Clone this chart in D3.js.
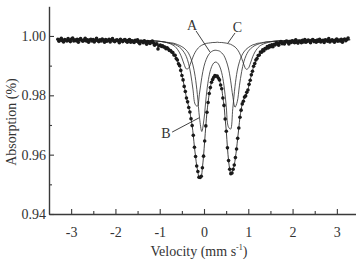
<!DOCTYPE html>
<html>
<head>
<meta charset="utf-8">
<script src="https://cdn.jsdelivr.net/npm/d3@7"></script>
<style>
  body { margin: 0; background: #fff; }
  svg { display: block; }
  text { font-family: "Liberation Serif", "Times New Roman", serif; }
</style>
</head>
<body>
<svg id="chart" width="356" height="259"></svg>
<script>
// measured spectrum: 256 channels, velocity from vStart in steps of vStep
let vStart = -3.30;
let vStep = 0.0257;
let absorption = [
  0.9989, 0.9982, 0.9987, 0.9992, 0.9984, 0.9980, 0.9988, 0.9986, 0.9983, 0.9991,
  0.9985, 0.9981, 0.9990, 0.9993, 0.9983, 0.9987, 0.9984, 0.9989, 0.9979, 0.9988,
  0.9991, 0.9985, 0.9982, 0.9986, 0.9992, 0.9983, 0.9987, 0.9979, 0.9986, 0.9989,
  0.9983, 0.9988, 0.9980, 0.9985, 0.9992, 0.9984, 0.9981, 0.9987, 0.9983, 0.9990,
  0.9986, 0.9979, 0.9988, 0.9982, 0.9985, 0.9989, 0.9980, 0.9987, 0.9991, 0.9983,
  0.9981, 0.9985, 0.9987, 0.9983, 0.9977, 0.9989, 0.9984, 0.9981, 0.9986, 0.9988,
  0.9982, 0.9979, 0.9985, 0.9988, 0.9979, 0.9984, 0.9981, 0.9978, 0.9985, 0.9982,
  0.9987, 0.9978, 0.9974, 0.9982, 0.9981, 0.9977, 0.9984, 0.9979, 0.9972, 0.9981,
  0.9978, 0.9975, 0.9980, 0.9983, 0.9976, 0.9969, 0.9973, 0.9974, 0.9956, 0.9967,
  0.9969, 0.9965, 0.9967, 0.9963, 0.9963, 0.9957, 0.9960, 0.9956, 0.9951, 0.9951,
  0.9946, 0.9944, 0.9936, 0.9935, 0.9924, 0.9919, 0.9906, 0.9900, 0.9884, 0.9867,
  0.9852, 0.9830, 0.9813, 0.9791, 0.9778, 0.9759, 0.9744, 0.9721, 0.9698, 0.9665,
  0.9625, 0.9594, 0.9562, 0.9543, 0.9524, 0.9523, 0.9527, 0.9556, 0.9595, 0.9646,
  0.9697, 0.9743, 0.9776, 0.9806, 0.9826, 0.9844, 0.9853, 0.9861, 0.9867, 0.9864,
  0.9865, 0.9858, 0.9852, 0.9835, 0.9822, 0.9791, 0.9766, 0.9720, 0.9679, 0.9623,
  0.9580, 0.9551, 0.9536, 0.9538, 0.9551, 0.9565, 0.9590, 0.9619, 0.9655, 0.9690,
  0.9726, 0.9750, 0.9771, 0.9780, 0.9794, 0.9798, 0.9810, 0.9818, 0.9837, 0.9851,
  0.9869, 0.9881, 0.9898, 0.9907, 0.9919, 0.9924, 0.9934, 0.9936, 0.9946, 0.9945,
  0.9953, 0.9950, 0.9958, 0.9957, 0.9964, 0.9960, 0.9968, 0.9964, 0.9970, 0.9964,
  0.9972, 0.9970, 0.9977, 0.9975, 0.9969, 0.9977, 0.9981, 0.9974, 0.9977, 0.9973,
  0.9981, 0.9983, 0.9978, 0.9973, 0.9981, 0.9978, 0.9984, 0.9980, 0.9977, 0.9987,
  0.9979, 0.9976, 0.9982, 0.9981, 0.9977, 0.9985, 0.9980, 0.9988, 0.9979, 0.9982,
  0.9986, 0.9982, 0.9977, 0.9985, 0.9988, 0.9981, 0.9984, 0.9979, 0.9986, 0.9982,
  0.9989, 0.9980, 0.9983, 0.9985, 0.9978, 0.9987, 0.9985, 0.9982, 0.9991, 0.9980,
  0.9984, 0.9987, 0.9983, 0.9979, 0.9986, 0.9990, 0.9982, 0.9986, 0.9983, 0.9989,
  0.9979, 0.9987, 0.9990, 0.9984, 0.9988, 0.9993
];

// fitted sub-spectra (doublets A, B, C) read at these velocities
let fitV = [
  -3.30, -2.60, -2.00, -1.60, -1.30, -1.10, -0.95, -0.85, -0.75,
  -0.70, -0.65, -0.60, -0.55, -0.50, -0.45, -0.40, -0.35, -0.30, -0.25,
  -0.20, -0.15, -0.10, -0.05, 0.00, 0.05, 0.10, 0.15, 0.20, 0.25,
  0.30, 0.35, 0.40, 0.45, 0.50, 0.55, 0.60, 0.65, 0.70, 0.75,
  0.80, 0.85, 0.90, 0.95, 1.00, 1.05, 1.10, 1.15, 1.20, 1.25, 1.30,
  1.40, 1.50, 1.65, 1.80, 2.00, 2.40, 2.90, 3.30
];
let compA = [
  0.9987, 0.9987, 0.9986, 0.9986, 0.9984, 0.9983, 0.9981, 0.9978, 0.9975,
  0.9973, 0.9971, 0.9967, 0.9962, 0.9955, 0.9945, 0.9931, 0.9908, 0.9872, 0.9821,
  0.9770, 0.9763, 0.9808, 0.9860, 0.9898, 0.9921, 0.9936, 0.9945, 0.9950, 0.9952,
  0.9951, 0.9949, 0.9943, 0.9934, 0.9917, 0.9892, 0.9851, 0.9797, 0.9760, 0.9778,
  0.9832, 0.9880, 0.9913, 0.9934, 0.9948, 0.9957, 0.9963, 0.9968, 0.9971, 0.9974, 0.9976,
  0.9979, 0.9981, 0.9983, 0.9984, 0.9985, 0.9986, 0.9987, 0.9987
];
let compB = [
  0.9987, 0.9987, 0.9986, 0.9985, 0.9984, 0.9983, 0.9981, 0.9979, 0.9977,
  0.9976, 0.9974, 0.9971, 0.9968, 0.9964, 0.9959, 0.9952, 0.9942, 0.9926, 0.9902,
  0.9864, 0.9803, 0.9723, 0.9678, 0.9720, 0.9796, 0.9853, 0.9887, 0.9905, 0.9912,
  0.9910, 0.9899, 0.9876, 0.9834, 0.9767, 0.9694, 0.9686, 0.9756, 0.9830, 0.9882,
  0.9913, 0.9933, 0.9946, 0.9955, 0.9961, 0.9966, 0.9970, 0.9972, 0.9975, 0.9976, 0.9977,
  0.9980, 0.9981, 0.9983, 0.9984, 0.9985, 0.9986, 0.9987, 0.9987
];
let compC = [
  0.9988, 0.9987, 0.9987, 0.9986, 0.9985, 0.9983, 0.9981, 0.9978, 0.9973,
  0.9969, 0.9964, 0.9955, 0.9943, 0.9926, 0.9905, 0.9889, 0.9891, 0.9909, 0.9929,
  0.9945, 0.9956, 0.9964, 0.9969, 0.9972, 0.9975, 0.9976, 0.9977, 0.9978, 0.9978,
  0.9979, 0.9978, 0.9978, 0.9977, 0.9976, 0.9974, 0.9972, 0.9968, 0.9963, 0.9955,
  0.9943, 0.9925, 0.9904, 0.9888, 0.9891, 0.9909, 0.9930, 0.9946, 0.9957, 0.9965, 0.9970,
  0.9976, 0.9980, 0.9983, 0.9984, 0.9986, 0.9987, 0.9987, 0.9988
];

let xTicks = [-3, -2, -1, 0, 1, 2, 3];
let xTickLabels = ["-3", "-2", "-1", "0", "1", "2", "3"];
let xMinorTicks = [-2.5, -1.5, -0.5, 0.5, 1.5, 2.5];
let yTicks = [0.94, 0.96, 0.98, 1.00];
let yTickLabels = ["0.94", "0.96", "0.98", "1.00"];
let yMinorTicks = [0.95, 0.97, 0.99];

function drawChart() {
  let svg = d3.select("#chart");
  let x = d3.scaleLinear().domain([-3.5, 3.5]).range([49, 359]);
  let y = d3.scaleLinear().domain([0.94, 1.01]).range([214, 6.3]);
  let axisColor = "#3a3a3a";

  let points = absorption.map(function (a, i) {
    return [vStart + i * vStep, a];
  });

  // sub-spectra
  let compLine = d3.line()
    .x(function (d) { return x(d[0]); })
    .y(function (d) { return y(d[1]); })
    .curve(d3.curveCatmullRom);
  let comps = [compA, compB, compC].map(function (c) {
    return fitV.map(function (v, i) { return [v, c[i]]; });
  });
  svg.append("g").selectAll("path")
    .data(comps)
    .join("path")
    .attr("d", compLine)
    .attr("fill", "none")
    .attr("stroke", "#2b2b2b")
    .attr("stroke-width", 0.8);

  // line through the measured points
  svg.append("path")
    .datum(points)
    .attr("d", compLine)
    .attr("fill", "none")
    .attr("stroke", "#111")
    .attr("stroke-width", 0.8);

  svg.append("g").selectAll("circle")
    .data(points)
    .join("circle")
    .attr("cx", function (d) { return x(d[0]); })
    .attr("cy", function (d) { return y(d[1]); })
    .attr("r", 1.8)
    .attr("fill", "#1a1a1a");

  // axes
  let xAxis = svg.append("g").attr("transform", "translate(0,214)")
    .call(d3.axisBottom(x).tickValues(xTicks)
      .tickFormat(function (d, i) { return xTickLabels[i]; })
      .tickSize(-5).tickSizeOuter(0).tickPadding(13));
  svg.append("g").attr("transform", "translate(0,214)")
    .call(d3.axisBottom(x).tickValues(xMinorTicks).tickFormat("")
      .tickSize(-3).tickSizeOuter(0))
    .select(".domain").remove();

  let yAxis = svg.append("g").attr("transform", "translate(49,0)")
    .call(d3.axisLeft(y).tickValues(yTicks)
      .tickFormat(function (d, i) { return yTickLabels[i]; })
      .tickSize(-5).tickSizeOuter(0).tickPadding(3));
  svg.append("g").attr("transform", "translate(49,0)")
    .call(d3.axisLeft(y).tickValues(yMinorTicks).tickFormat("")
      .tickSize(-3).tickSizeOuter(0))
    .select(".domain").remove();

  svg.selectAll(".domain").attr("stroke", axisColor).attr("stroke-width", 1.4);
  svg.selectAll(".tick line").attr("stroke", axisColor).attr("stroke-width", 1.1);
  [xAxis, yAxis].forEach(function (g) {
    g.selectAll("text")
      .attr("font-family", "Liberation Serif, serif")
      .attr("font-size", 14)
      .attr("fill", "#333");
  });

  // axis titles
  let xTitle = svg.append("text")
    .attr("x", 199).attr("y", 255.5)
    .attr("text-anchor", "middle")
    .attr("font-size", 14)
    .attr("fill", "#333");
  xTitle.append("tspan").text("Velocity (mm s");
  xTitle.append("tspan").attr("font-size", 8).attr("dy", -6).text("-1");
  xTitle.append("tspan").attr("dy", 6).text(")");

  svg.append("text")
    .attr("transform", "translate(16,122) rotate(-90)")
    .attr("text-anchor", "middle")
    .attr("font-size", 14)
    .attr("fill", "#333")
    .text("Absorption (%)");

  // component labels with pointer lines (data coordinates)
  let notes = [
    { name: "A", tx: -0.27, ty: 1.0020, from: [-0.18, 1.0017], to: [0.14, 0.9945] },
    { name: "C", tx: 0.756, ty: 1.0013, from: [0.70, 1.0010], to: [0.54, 0.9976] },
    { name: "B", tx: -0.858, ty: 0.9656, from: [-0.72, 0.9676], to: [-0.113, 0.9724] }
  ];
  svg.append("g").selectAll("line")
    .data(notes)
    .join("line")
    .attr("x1", function (d) { return x(d.from[0]); })
    .attr("y1", function (d) { return y(d.from[1]); })
    .attr("x2", function (d) { return x(d.to[0]); })
    .attr("y2", function (d) { return y(d.to[1]); })
    .attr("stroke", "#111")
    .attr("stroke-width", 0.8);
  svg.append("g").selectAll("text")
    .data(notes)
    .join("text")
    .attr("x", function (d) { return x(d.tx); })
    .attr("y", function (d) { return y(d.ty); })
    .attr("text-anchor", "middle")
    .attr("font-size", 14)
    .attr("fill", "#333")
    .text(function (d) { return d.name; });
}

drawChart();
</script>
</body>
</html>
